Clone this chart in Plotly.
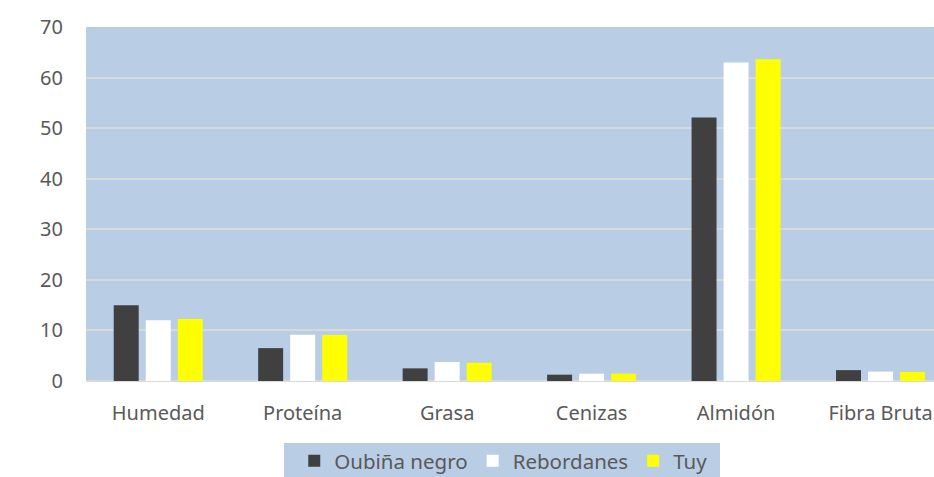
import plotly.graph_objects as go

categories = ["Humedad", "Proteína", "Grasa", "Cenizas", "Almidón", "Fibra Bruta"]
oubina = [15.0, 6.5, 2.5, 1.25, 52.1, 2.15]
rebordanes = [12.0, 9.15, 3.75, 1.45, 63.0, 1.85]
tuy = [12.25, 9.1, 3.6, 1.45, 63.6, 1.8]
series_names = ["Oubiña negro", "Rebordanes", "Tuy"]
y_ticks = [0, 10, 20, 30, 40, 50, 60, 70]

colors = ["#404040", "#FFFFFF", "#FFFF00"]
font = "Noto Sans"
txt = "#595959"

fig = go.Figure()
for name, vals, c in zip(series_names, [oubina, rebordanes, tuy], colors):
    fig.add_trace(go.Bar(x=categories, y=vals, name=name,
                         marker=dict(color=c, line=dict(width=0))))

fig.update_layout(
    width=934, height=477,
    margin=dict(l=86, r=0, t=27, b=96, autoexpand=False),
    paper_bgcolor="white",
    plot_bgcolor="#B9CDE5",
    barmode="group",
    bargap=0.335,
    bargroupgap=0.22,
    font=dict(family=font, size=20, color=txt),
    legend=dict(orientation="h", x=0.2456, xanchor="left",
                yref="container", y=0.0755, yanchor="top",
                bgcolor="rgba(0,0,0,0)", font=dict(size=20.5, color=txt),
                itemwidth=30, traceorder="normal"),
    xaxis=dict(range=[-0.5, 5.37], showgrid=False, ticks="outside", ticklen=14,
               tickcolor="rgba(0,0,0,0)", showline=False, zeroline=False),
    yaxis=dict(range=[0, 70], tickvals=y_ticks, showgrid=True, gridcolor="#D9D9D9",
               gridwidth=1.5, zeroline=True, zerolinecolor="#D9D9D9", zerolinewidth=1.5,
               ticks="outside", ticklen=18, tickcolor="rgba(0,0,0,0)"),
    shapes=[dict(type="rect", xref="paper", yref="paper",
                 x0=0.2335, x1=0.7476, y0=-0.2712, y1=-0.1751,
                 fillcolor="#B9CDE5", line=dict(width=0), layer="below")],
)

fig.write_html(
    "out.html",
    config={"displayModeBar": False},
    post_script="document.documentElement.style.margin='0';"
                "document.body.style.margin='0';"
                "document.body.style.overflow='hidden';",
)
